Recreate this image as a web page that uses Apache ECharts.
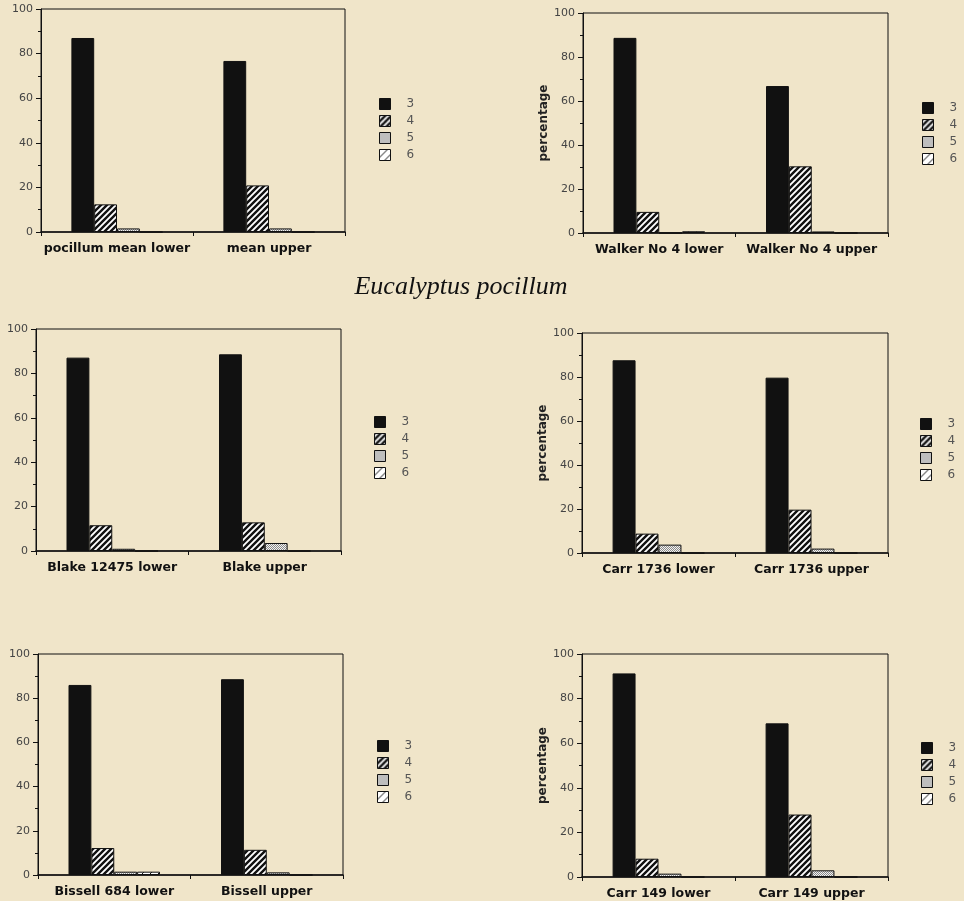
<!DOCTYPE html>
<html><head><meta charset="utf-8">
<script src="https://cdn.jsdelivr.net/npm/echarts@6/dist/echarts.min.js"></script>
<style>html,body{margin:0;padding:0;background:#f0e5c9;} #c{width:964px;height:901px;}</style>
</head><body><div id="c"></div>
<script>
// ---- data ----
const panelCategories = [
  ['pocillum mean lower', 'mean upper'],
  ['Walker No 4 lower', 'Walker No 4 upper'],
  ['Blake 12475 lower', 'Blake upper'],
  ['Carr 1736 lower', 'Carr 1736 upper'],
  ['Bissell 684 lower', 'Bissell upper'],
  ['Carr 149 lower', 'Carr 149 upper']
];
const seriesNames = ['3', '4', '5', '6'];
const values3 = [[87, 76.7], [88.7, 66.8], [87.1, 88.6], [87.6, 79.7], [86, 88.6], [91.3, 68.9]];
const values4 = [[12.4, 20.9], [9.6, 30.3], [11.6, 12.9], [8.8, 19.7], [12.2, 11.4], [8.2, 28]];
const values5 = [[1.6, 1.6], [0, 0.7], [1.0, 3.6], [3.8, 2], [1.5, 1.2], [1.5, 3]];
const values6 = [[0, 0], [0.8, 0], [0, 0], [0, 0], [1.5, 0], [0, 0]];
const yTicks = [0, 20, 40, 60, 80, 100];
const yAxisTitle = 'percentage';
const chartTitle = 'Eucalyptus pocillum';

// ---- layout / style ----
const grids = [
  {left: 41, top: 9, width: 304, height: 223},
  {left: 583, top: 13, width: 305, height: 220},
  {left: 36, top: 329, width: 305, height: 222},
  {left: 582, top: 333, width: 306, height: 220},
  {left: 38, top: 654, width: 305, height: 221},
  {left: 582, top: 654, width: 306, height: 223}
];
const legendPos = [
  {left: 379, top: 98}, {left: 922, top: 102},
  {left: 374, top: 416}, {left: 920, top: 418},
  {left: 377, top: 740}, {left: 921, top: 742}
];
const showYName = [false, true, false, true, false, true];

function hatch(size, lw, bg, fg) {
  const c = document.createElement('canvas');
  c.width = size; c.height = size;
  const g = c.getContext('2d');
  g.fillStyle = bg; g.fillRect(0, 0, size, size);
  g.strokeStyle = fg; g.lineWidth = lw;
  g.beginPath();
  g.moveTo(-1, 1); g.lineTo(1, -1);
  g.moveTo(0, size); g.lineTo(size, 0);
  g.moveTo(size - 1, size + 1); g.lineTo(size + 1, size - 1);
  g.stroke();
  return c;
}
function stipple() {
  const c = document.createElement('canvas');
  c.width = 2; c.height = 2;
  const g = c.getContext('2d');
  g.fillStyle = '#f2f2f2'; g.fillRect(0, 0, 2, 2);
  g.fillStyle = '#8a8a8a'; g.fillRect(0, 0, 1, 1); g.fillRect(1, 1, 1, 1);
  return c;
}
const fills = [
  '#111111',
  {image: hatch(6, 2.4, '#ffffff', '#111111'), repeat: 'repeat'},
  {image: stipple(), repeat: 'repeat'},
  {image: hatch(8, 1, '#ffffff', '#111111'), repeat: 'repeat'}
];
const valuesByKind = [values3, values4, values5, values6];

const font = 'DejaVu Sans';
const option = {
  backgroundColor: '#f0e5c9',
  animation: false,
  grid: grids.map(g => Object.assign({show: true, borderColor: '#111', borderWidth: 1, backgroundColor: 'transparent', containLabel: false, outerBoundsMode: 'none'}, g)),
  xAxis: panelCategories.map((cats, p) => ({
    type: 'category', gridIndex: p, data: cats,
    axisLine: {show: true, lineStyle: {color: '#111', width: 1.5}},
    axisTick: {show: true, length: 4, lineStyle: {color: '#111'}},
    axisLabel: {interval: 0, margin: 10, color: '#111', fontFamily: font, fontWeight: 'bold', fontSize: 12.5},
    splitLine: {show: false}
  })),
  yAxis: panelCategories.map((cats, p) => ({
    type: 'value', gridIndex: p,
    min: yTicks[0], max: yTicks[yTicks.length - 1], interval: yTicks[1] - yTicks[0],
    axisLine: {show: true, lineStyle: {color: '#111', width: 1}},
    axisTick: {show: true, length: 5, lineStyle: {color: '#111'}},
    minorTick: {show: true, splitNumber: 2, length: 3, lineStyle: {color: '#111'}},
    splitLine: {show: false},
    minorSplitLine: {show: false},
    axisLabel: {margin: 8, color: '#444', fontFamily: font, fontSize: 11},
    name: showYName[p] ? yAxisTitle : '',
    nameLocation: 'middle', nameGap: 31, nameRotate: 90,
    nameTextStyle: {color: '#222', fontFamily: font, fontWeight: 'bold', fontSize: 12}
  })),
  legend: legendPos.map(lp => ({
    left: lp.left, top: lp.top, orient: 'vertical', padding: 0,
    data: seriesNames, icon: 'rect', itemWidth: 11, itemHeight: 11, itemGap: 5,
    selectedMode: false,
    itemStyle: {borderColor: '#111', borderWidth: 1},
    textStyle: {color: '#555', fontFamily: font, fontSize: 12, lineHeight: 11, padding: [0, 0, 0, 11]}
  })),
  graphic: [{
    type: 'text', x: 461, y: 287,
    style: {text: chartTitle, font: 'italic 26px "Liberation Serif"', fill: '#111', align: 'center', verticalAlign: 'middle'}
  }],
  series: []
};
for (let p = 0; p < panelCategories.length; p++) {
  for (let k = 0; k < seriesNames.length; k++) {
    option.series.push({
      type: 'bar', name: seriesNames[k], xAxisIndex: p, yAxisIndex: p,
      data: valuesByKind[k][p],
      barGap: '0%', barCategoryGap: '40%',
      itemStyle: {color: fills[k], borderColor: '#111', borderWidth: 1},
      silent: true
    });
  }
}
const chart = echarts.init(document.getElementById('c'), null, {renderer: 'canvas'});
chart.setOption(option);
</script>
</body></html>
